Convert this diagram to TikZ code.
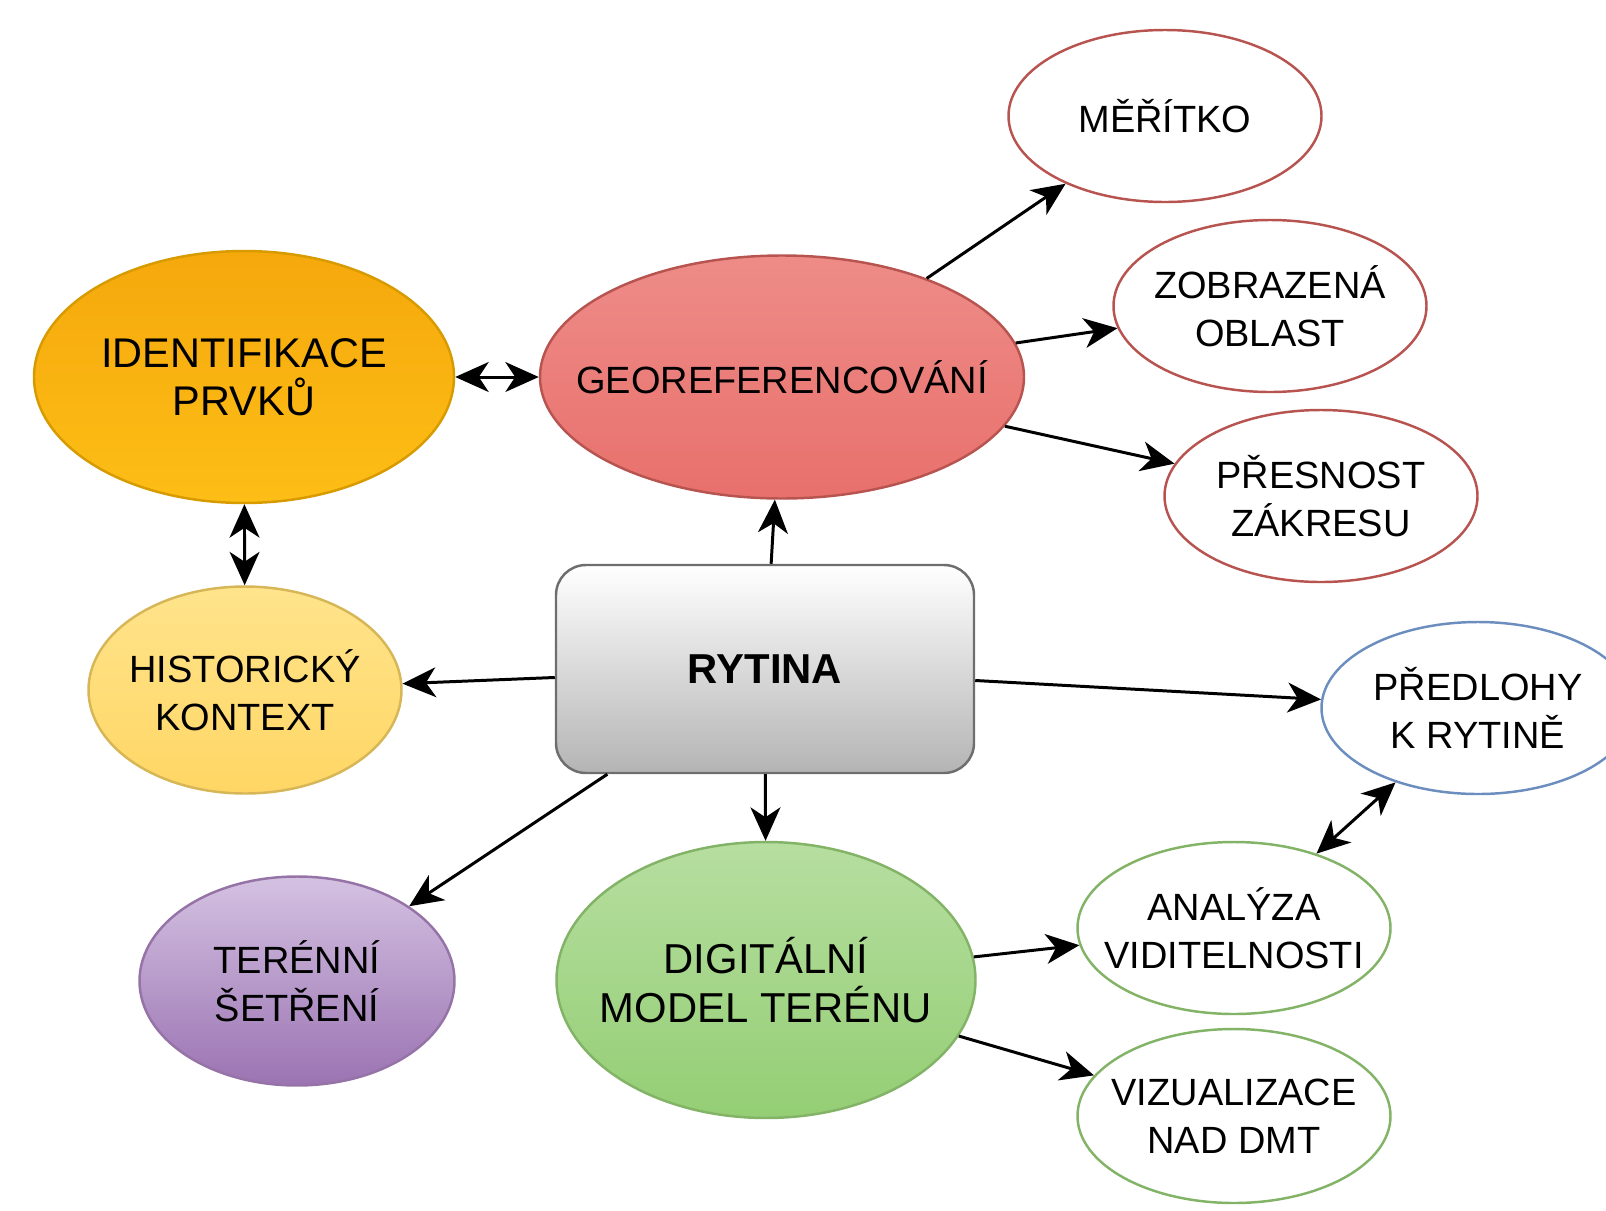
\documentclass[tikz,border=0pt]{standalone}
\usepackage{fontspec}
\setmainfont{Liberation Sans}
\usetikzlibrary{shapes.geometric,arrows.meta}
\definecolor{redline}{HTML}{B85450}
\definecolor{greenline}{HTML}{82B366}
\definecolor{blueline}{HTML}{6C8EBF}
\begin{document}
\begin{tikzpicture}[x=0.1mm,y=-0.1mm,
  >={Stealth[length=9.5pt,width=8.5pt,inset=2.8pt]},
  bubble/.style={ellipse,draw,line width=0.7pt,inner xsep=-8mm,inner ysep=0pt,align=center,
    font=\fontsize{10.8}{13.6}\selectfont},
  leaf/.style={bubble,fill=white,minimum width=31.3mm,minimum height=17.2mm},
  link/.style={line width=0.85pt,->},
  twoway/.style={line width=0.85pt,<->}]
\useasboundingbox (0,0) rectangle (1606,1211);
\node[bubble,font=\fontsize{11.8}{13.8}\selectfont,minimum width=42mm,minimum height=25.2mm,top color={rgb,255:red,245;green,168;blue,12},bottom color={rgb,255:red,253;green,190;blue,22},draw={rgb,255:red,215;green,155;blue,0}] (ident) at (244,377) {IDENTIFIKACE\\PRVKŮ};
\node[bubble,minimum width=48.4mm,minimum height=24.3mm,top color={rgb,255:red,238;green,140;blue,136},bottom color={rgb,255:red,232;green,112;blue,108},draw=redline] (geo) at (782,377) {GEOREFERENCOVÁNÍ};
\node[leaf,draw=redline] (meritko) at (1165,116) {MĚŘÍTKO};
\node[leaf,draw=redline] (oblast) at (1270,306) {ZOBRAZENÁ\\OBLAST};
\node[leaf,draw=redline] (presnost) at (1321,496) {PŘESNOST\\ZÁKRESU};
\node[rectangle,rounded corners=3mm,draw={rgb,255:red,110;green,110;blue,110},line width=0.7pt,minimum width=41.8mm,minimum height=20.8mm,top color=white,bottom color={rgb,255:red,180;green,180;blue,180},font=\fontsize{11.9}{14}\selectfont\bfseries] (rytina) at (765,669) {RYTINA};
\node[bubble,minimum width=31.3mm,minimum height=20.7mm,top color={rgb,255:red,255;green,228;blue,140},bottom color={rgb,255:red,255;green,214;blue,100},draw={rgb,255:red,214;green,182;blue,86}] (kontext) at (245,690) {HISTORICKÝ\\KONTEXT};
\node[leaf,draw=blueline] (predlohy) at (1478,708) {PŘEDLOHY\\K RYTINĚ};
\node[bubble,minimum width=31.5mm,minimum height=20.9mm,top color={rgb,255:red,212;green,194;blue,226},bottom color={rgb,255:red,155;green,115;blue,178},draw={rgb,255:red,150;green,115;blue,166}] (teren) at (297,981) {TERÉNNÍ\\ŠETŘENÍ};
\node[bubble,font=\fontsize{11.9}{13.9}\selectfont,minimum width=41.9mm,minimum height=27.6mm,top color={rgb,255:red,182;green,222;blue,160},bottom color={rgb,255:red,148;green,206;blue,116},draw=greenline] (dmt) at (766,980) {DIGITÁLNÍ\\MODEL TERÉNU};
\node[leaf,draw=greenline] (analyza) at (1234,928) {ANALÝZA\\VIDITELNOSTI};
\node[leaf,draw=greenline,minimum height=17.4mm] (vizual) at (1234,1116) {VIZUALIZACE\\NAD DMT};
\draw[twoway] (ident) -- (geo);
\draw[twoway] (ident) -- (kontext);
\draw[link] (rytina) -- (geo);
\draw[link] (geo) -- (meritko);
\draw[link] (geo) -- (oblast);
\draw[link] (geo) -- (presnost);
\draw[link] (rytina) -- (kontext);
\draw[link] (rytina) -- (predlohy);
\draw[link] (rytina) -- (teren);
\draw[link] (rytina) -- (dmt);
\draw[link] (dmt) -- (analyza);
\draw[link] (dmt) -- (vizual);
\draw[twoway] (analyza) -- (predlohy);
\end{tikzpicture}
\end{document}
